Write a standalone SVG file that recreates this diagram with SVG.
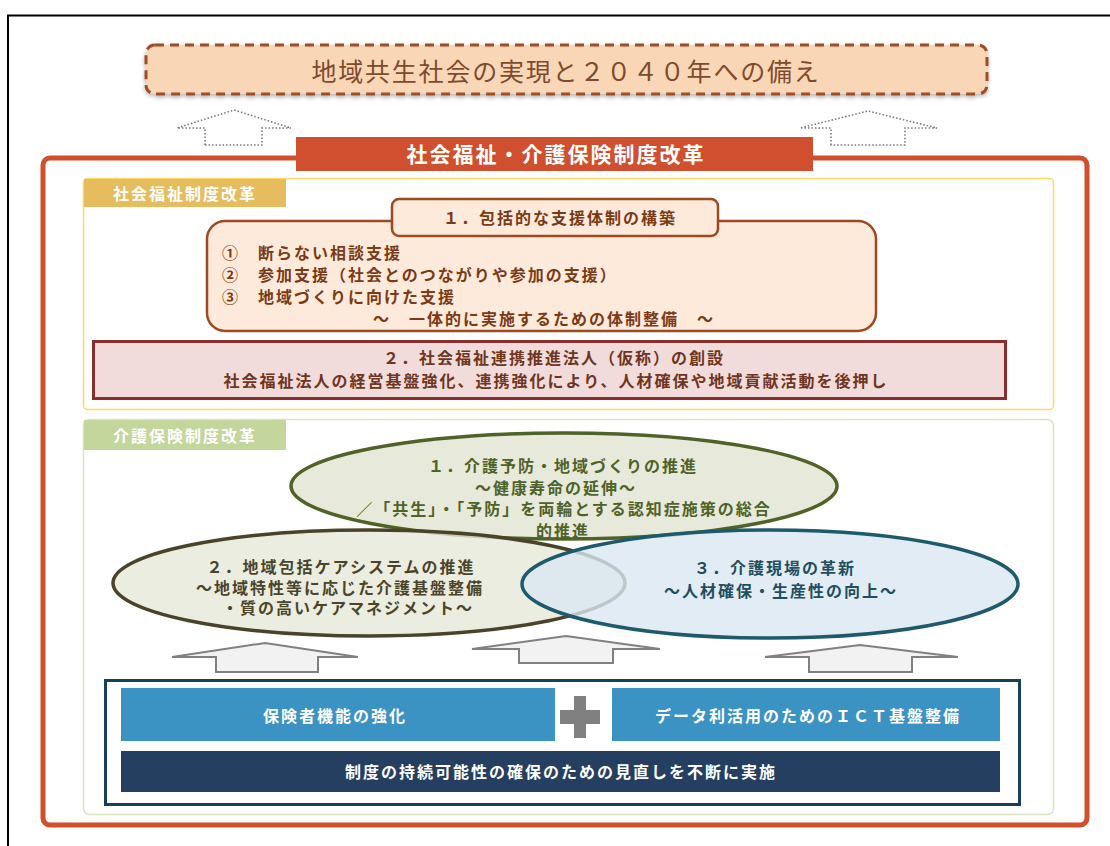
<svg xmlns="http://www.w3.org/2000/svg" width="1110" height="846" viewBox="0 0 1110 846">
<defs>
<filter id="sh" x="-5%" y="-20%" width="110%" height="150%"><feDropShadow dx="0" dy="2" stdDeviation="2" flood-color="#000" flood-opacity="0.3"/></filter>
<style>
text{font-family:"Noto Sans CJK JP","Noto Sans",sans-serif;dominant-baseline:central;}
.b{font-weight:bold;font-size:16px;letter-spacing:2px;}
.w{fill:#fff;}
.brown{fill:#7a3a16;}
.dot{fill:#fff;stroke:#7a7a7a;stroke-width:1.6;stroke-dasharray:1.5 2;}
.garrow{fill:#f2f2f2;stroke:#808080;stroke-width:2;}
</style>
</defs>
<rect x="0" y="0" width="1110" height="846" fill="#fff"/>
<path d="M8 846 V15.5 H1110" fill="none" stroke="#000" stroke-width="2"/>

<g id="goal">
<rect x="146" y="45" width="841" height="49" rx="9" fill="#f9d6b6" stroke="#a04d25" stroke-width="3" stroke-dasharray="9 6" filter="url(#sh)"/>
<text x="566" y="70" text-anchor="middle" font-size="25" letter-spacing="1.8" fill="#7e4a2c">地域共生社会の実現と２０４０年への備え</text>
</g>

<g id="frame">
<rect x="43" y="158" width="1044" height="667" rx="7" fill="none" stroke="#d24f2c" stroke-width="5"/>
</g>
<g id="banner">
<rect x="296" y="137" width="517" height="34" fill="#cf4f2e"/>
<text x="556" y="153" text-anchor="middle" class="w" font-weight="bold" font-size="21" letter-spacing="2">社会福祉・介護保険制度改革</text>
</g>

<g id="sec1">
<rect x="83.5" y="178.5" width="970" height="231" rx="4" fill="#fff" stroke="#ffd966" stroke-width="1.5"/>
<rect x="84" y="179" width="202" height="28" fill="#e5bd5f"/>
<text x="185" y="193" text-anchor="middle" class="w b">社会福祉制度改革</text>
</g>

<g id="item1">
<rect x="207" y="221" width="669" height="110" rx="18" fill="#fdeada" stroke="#9b4a22" stroke-width="2.5"/>
<rect x="392" y="199" width="326" height="37" rx="7" fill="#fdeada" stroke="#9b4a22" stroke-width="2.5"/>
<text x="560" y="217" text-anchor="middle" class="b brown">１．包括的な支援体制の構築</text>
<text x="222" y="252" class="b brown">①　断らない相談支援</text>
<text x="222" y="274" class="b brown">②　参加支援（社会とのつながりや参加の支援）</text>
<text x="222" y="296" class="b brown">③　地域づくりに向けた支援</text>
<text x="544" y="318" text-anchor="middle" class="b brown">～　一体的に実施するための体制整備　～</text>
</g>

<g id="item2">
<rect x="93.5" y="341.5" width="912" height="57" fill="#f2dcdb" stroke="#8c2d2d" stroke-width="3"/>
<text x="554" y="357" text-anchor="middle" class="b" fill="#6e3520">２．社会福祉連携推進法人（仮称）の創設</text>
<text x="556" y="380" text-anchor="middle" class="b" fill="#6e3520">社会福祉法人の経営基盤強化、連携強化により、人材確保や地域貢献活動を後押し</text>
</g>

<g id="sec2">
<rect x="83.5" y="419.5" width="970" height="395" rx="6" fill="#fff" stroke="#d7e4bc" stroke-width="1.5"/>
<rect x="84" y="420" width="202" height="30" fill="#c3d69b"/>
<text x="185" y="435" text-anchor="middle" class="w b">介護保険制度改革</text>
</g>

<g id="connectors">
<path class="dot" d="M205 145 V128 H177 L234 110 L291 128 H262 V145 Z"/>
<path class="dot" d="M831 145 V128 H800 L868 111 L937 128 H905 V145 Z"/>
<path class="garrow" d="M216 672 V657 H172 L265 643 L358 657 H318 V672 Z"/>
<path class="garrow" d="M519 663 V649 H472 L566 636 L660 649 H613 V663 Z"/>
<path class="garrow" d="M809 672 V657 H765 L860 645 L958 657 H912 V672 Z"/>
</g>

<g id="circle1">
<ellipse cx="564" cy="486" rx="273" ry="53" fill="#e1e5d2" fill-opacity="0.8" stroke="#4f6228" stroke-width="3.5"/>
</g>
<g id="circle2">
<ellipse cx="369" cy="583" rx="256" ry="53" fill="#e7e9d9" fill-opacity="0.8" stroke="#4a432a" stroke-width="3.5"/>
</g>
<g id="circle3">
<ellipse cx="770" cy="584" rx="248" ry="54" fill="#d9e7f1" fill-opacity="0.8" stroke="#1d5a6b" stroke-width="3.5"/>
</g>
<g id="labels">
<text x="563" y="465" text-anchor="middle" class="b" fill="#4f6228">１．介護予防・地域づくりの推進</text>
<text x="556" y="487" text-anchor="middle" class="b" fill="#4f6228" letter-spacing="1">～健康寿命の延伸～</text>
<text x="564" y="508" text-anchor="middle" class="b" fill="#4f6228" font-size="15" letter-spacing="2.4">／「共生」・「予防」を両輪とする認知症施策の総合</text>
<text x="563" y="530" text-anchor="middle" class="b" fill="#4f6228" font-size="15">的推進</text>
<text x="341" y="566" text-anchor="middle" class="b" fill="#4a452a" font-size="17.5" letter-spacing="1">２．地域包括ケアシステムの推進</text>
<text x="340" y="587" text-anchor="middle" class="b" fill="#4a452a" font-size="14" letter-spacing="2.4">～地域特性等に応じた介護基盤整備</text>
<text x="348" y="607" text-anchor="middle" class="b" fill="#4a452a" font-size="14" letter-spacing="2">・質の高いケアマネジメント～</text>
<text x="775" y="567" text-anchor="middle" class="b" fill="#1f4e5f">３．介護現場の革新</text>
<text x="781" y="590" text-anchor="middle" class="b" fill="#1f4e5f" letter-spacing="1.8">～人材確保・生産性の向上～</text>
</g>

<g id="base">
<rect x="105.5" y="680.5" width="914" height="124" fill="#fff" stroke="#17405a" stroke-width="3"/>
<rect x="121" y="688" width="434" height="53" fill="#3b93c3"/>
<text x="335" y="715" text-anchor="middle" class="w b">保険者機能の強化</text>
<path d="M574 696 H586 V710 H600 V724 H586 V738 H574 V724 H560 V710 H574 Z" fill="#808080"/>
<rect x="612" y="688" width="388" height="53" fill="#3b93c3"/>
<text x="808" y="715" text-anchor="middle" class="w b">データ利活用のためのＩＣＴ基盤整備</text>
<rect x="121" y="751" width="879" height="41" fill="#243f60"/>
<text x="561" y="771" text-anchor="middle" class="w b">制度の持続可能性の確保のための見直しを不断に実施</text>
</g>
</svg>
